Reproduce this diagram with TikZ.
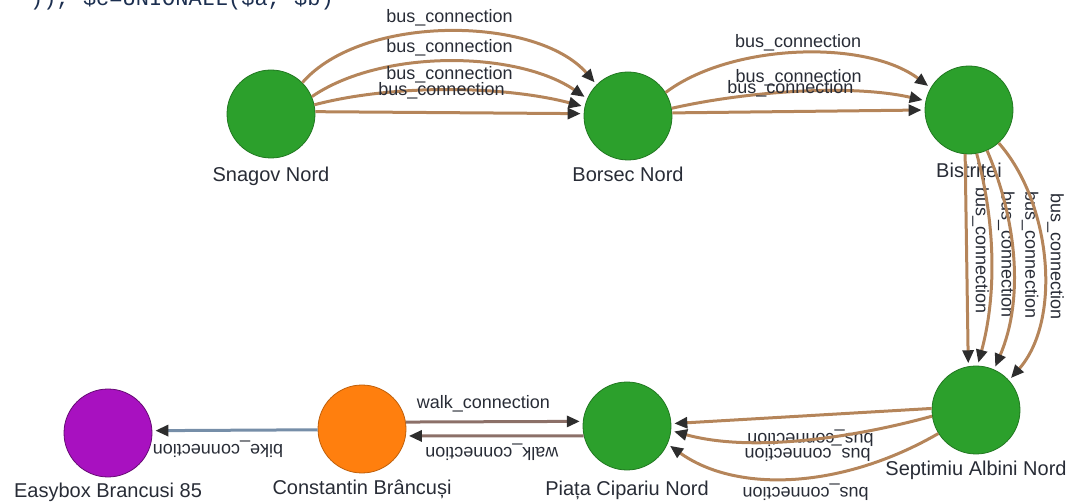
\documentclass[tikz,border=0pt]{standalone}
\usepackage{fontspec}
\setmainfont{Liberation Sans}
\newfontfamily\codefont{Liberation Mono}
\usetikzlibrary{arrows.meta}

\definecolor{stopgreen}{RGB}{44,160,44}
\definecolor{stoporange}{RGB}{255,127,14}
\definecolor{stoppurple}{RGB}{168,17,192}
\definecolor{busc}{RGB}{181,133,90}
\definecolor{walkc}{RGB}{140,112,104}
\definecolor{bikec}{RGB}{118,142,168}
\definecolor{tipc}{RGB}{45,45,45}
\definecolor{lblc}{RGB}{40,44,54}
\definecolor{codec}{RGB}{28,47,80}

\begin{document}
\begin{tikzpicture}[x=1pt,y=-1pt,
  stop/.style={circle, minimum size=88pt, inner sep=0pt, line width=0.8pt},
  greenstop/.style={stop, fill=stopgreen, draw=stopgreen!75!black},
  nlbl/.style={font=\fontsize{20pt}{22pt}\selectfont, text=lblc, inner sep=0pt},
  elbl/.style={font=\fontsize{18pt}{20pt}\selectfont, text=lblc, inner sep=0pt},
  link/.style={line width=3pt, shorten >=3pt,
    -{Triangle[length=13pt,width=11pt,color=tipc]}},
  busedge/.style={link, draw=busc},
  walkedge/.style={link, draw=walkc},
  bikeedge/.style={link, draw=bikec},
]
\useasboundingbox (0,0) rectangle (1071,502);

% query fragment at the top
\node[font=\codefont\fontsize{22pt}{24pt}\selectfont, text=codec, anchor=base west, inner sep=0pt]
  (query) at (30,6) {)), \$c=UNIONALL(\$a, \$b)};

% stops
\node[greenstop, label={[nlbl,label distance=8pt]below:Snagov Nord}] (snagov) at (271,114) {};
\node[greenstop, label={[nlbl,label distance=6pt]below:Borsec Nord}] (borsec) at (628,116) {};
\node[greenstop, label={[nlbl,label distance=8pt]below:Bistriței}] (bistritei) at (969,110) {};
\node[greenstop, label={[nlbl,label distance=6pt]below:Septimiu Albini Nord}] (septimiu) at (976,410) {};
\node[greenstop, label={[nlbl,label distance=10pt]below:Piața Cipariu Nord}] (piata) at (627,426) {};
\node[stop, fill=stoporange, draw=stoporange!75!black,
  label={[nlbl,label distance=6pt]below:Constantin Brâncuși}] (brancusi) at (362,429) {};
\node[stop, fill=stoppurple, draw=stoppurple!60!black,
  label={[nlbl,label distance=5pt]below:Easybox Brancusi 85}] (easybox) at (108,433) {};

% Snagov Nord -> Borsec Nord
\draw[busedge] (snagov.45) .. controls +(60,-69) and +(-60,-69) .. (borsec.135)
  node[elbl, midway, yshift=14pt] {bus\_connection};
\draw[busedge] (snagov.23) .. controls +(70,-48) and +(-70,-48) .. (borsec.157)
  node[elbl, midway, yshift=14pt] {bus\_connection};
\draw[busedge] (snagov.12) .. controls +(80,-21) and +(-80,-21) .. (borsec.168)
  node[elbl, midway, yshift=15pt] {bus\_connection};
\draw[busedge] (snagov.3) -- (borsec.177)
  node[elbl, midway, yshift=22pt, xshift=-8pt] {bus\_connection};

% Borsec Nord -> Bistriței
\draw[busedge] (borsec.32) .. controls +(65,-49) and +(-65,-49) .. (bistritei.150)
  node[elbl, midway, yshift=11pt] {bus\_connection};
\draw[busedge] (borsec.10) .. controls +(75,-17) and +(-75,-17) .. (bistritei.168)
  node[elbl, midway, yshift=14pt] {bus\_connection};
\draw[busedge] (borsec.4) -- (bistritei.180)
  node[elbl, midway, yshift=23pt, xshift=-8pt] {bus\_connection};

% Bistriței -> Septimiu Albini Nord
\draw[busedge] (bistritei.-95) -- (septimiu.100)
  node[elbl, midway, xshift=14pt, yshift=10pt, rotate=-90] {bus\_connection};
\draw[busedge] (bistritei.-80) .. controls +(19,70) and +(19,-70) .. (septimiu.88)
  node[elbl, midway, xshift=15pt, yshift=5pt, rotate=-90] {bus\_connection};
\draw[busedge] (bistritei.-66) .. controls +(30,70) and +(30,-70) .. (septimiu.66)
  node[elbl, midway, xshift=17pt, yshift=5pt, rotate=-90] {bus\_connection};
\draw[busedge] (bistritei.-48) .. controls +(53,60) and +(53,-60) .. (septimiu.42)
  node[elbl, midway, xshift=12pt, yshift=5pt, rotate=-90] {bus\_connection};

% Septimiu Albini Nord -> Piața Cipariu Nord
\draw[busedge] (septimiu.178) -- (piata.3)
  node[elbl, midway, yshift=-22pt, xshift=9pt, rotate=180] {bus\_connection};
\draw[busedge] (septimiu.188) .. controls +(-80,22) and +(80,22) .. (piata.-6)
  node[elbl, midway, yshift=-13pt, xshift=6pt, rotate=180] {bus\_connection};
\draw[busedge] (septimiu.212) .. controls +(-95,55) and +(70,50) .. (piata.-24)
  node[elbl, midway, yshift=-14pt, xshift=12pt, rotate=180] {bus\_connection};

% Constantin Brâncuși <-> Piața Cipariu Nord
\draw[walkedge] (brancusi.9) -- (piata.174)
  node[elbl, midway, yshift=18pt, xshift=-11pt] {walk\_connection};
\draw[walkedge] (piata.193) -- (brancusi.-9)
  node[elbl, midway, yshift=-16pt, xshift=-3pt, rotate=180] {walk\_connection};

% Constantin Brâncuși -> Easybox Brancusi 85
\draw[bikeedge] (brancusi.181) -- (easybox.3)
  node[elbl, midway, yshift=-19pt, xshift=-17pt, rotate=180] {bike\_connection};
\end{tikzpicture}
\end{document}
